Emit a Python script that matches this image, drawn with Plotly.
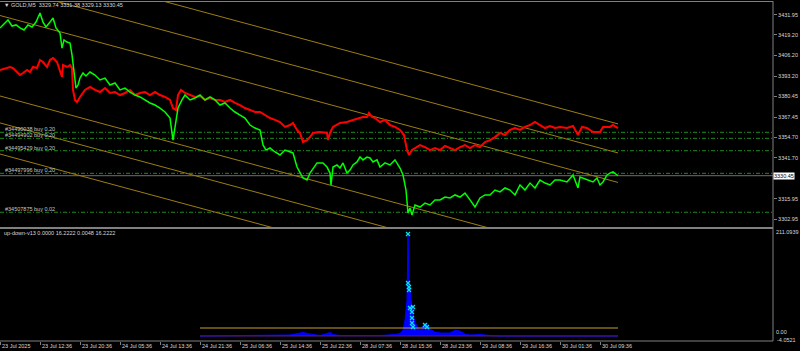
import plotly.graph_objects as go

# ---------------- data ----------------
# time axis in trading hours since first bar (M5 bars, weekend removed)
tick_hours = [0, 8, 16, 24, 32, 40, 48, 56, 64, 72, 80, 88, 96, 104, 112, 120]
tick_labels = ["23 Jul 2025", "23 Jul 12:36", "23 Jul 20:36", "24 Jul 05:36", "24 Jul 13:36",
               "24 Jul 21:36", "25 Jul 06:36", "25 Jul 14:36", "25 Jul 22:36", "28 Jul 07:36",
               "28 Jul 15:36", "28 Jul 23:36", "29 Jul 08:36", "29 Jul 16:36", "30 Jul 01:36",
               "30 Jul 09:36"]

price_ticks = [3431.95, 3419.20, 3406.20, 3393.20, 3380.45, 3367.45, 3354.70, 3341.70,
               3315.95, 3302.95]

green_t = [0.0, 0.8, 1.6, 2.4, 3.2, 4.0, 4.8, 5.6, 6.4, 7.2, 8.0, 8.6, 9.2, 10.0, 10.6, 11.2, 12.0,
           12.4, 12.8, 13.4, 14.0, 14.4, 14.8, 15.2, 15.6, 16.0, 16.6, 17.2, 18.0, 19.0, 20.0, 21.0,
           22.0, 23.0, 24.0, 25.0, 26.0, 27.0, 28.0, 29.0, 30.0, 31.0, 32.0, 33.0, 34.0, 34.6, 35.2,
           35.6, 36.4, 37.0, 38.0, 39.0, 40.0, 41.0, 42.0, 43.0, 44.0, 45.0, 46.0, 47.0, 48.0, 49.0,
           50.0, 51.0, 52.0, 52.6, 53.2, 54.0, 55.0, 56.0, 57.0, 58.0, 58.6, 59.4, 60.0, 60.6, 61.4,
           62.0, 63.4, 64.6, 65.4, 66.0, 66.2, 66.6, 67.4, 68.0, 68.6, 69.4, 70.0, 70.6, 71.4, 72.0,
           72.6, 73.4, 74.0, 74.6, 75.4, 76.0, 77.0, 78.0, 79.0, 80.0, 80.6, 81.2, 81.6, 82.0, 82.4,
           83.0, 84.0, 85.0, 86.0, 87.0, 88.0, 89.0, 90.0, 91.0, 92.0, 93.0, 94.0, 95.0, 96.0, 97.0,
           98.0, 99.0, 100.0, 101.0, 102.0, 103.0, 104.0, 105.0, 106.0, 107.0, 108.0, 109.0, 110.0,
           111.0, 112.0, 113.4, 114.6, 115.6, 116.0, 117.4, 118.6, 119.4, 120.0, 120.6, 121.4, 122.0,
           122.6, 123.4, 123.6]
green_p = [3423.6, 3426.1, 3428.6, 3424.8, 3425.5, 3423.6, 3422.3, 3425.5, 3424.2, 3427.3, 3433.0,
           3427.3, 3424.2, 3427.3, 3429.9, 3423.6, 3420.4, 3410.9, 3416.0, 3414.7, 3414.1, 3406.6,
           3393.9, 3385.7, 3387.6, 3392.0, 3395.2, 3393.3, 3395.8, 3393.9, 3390.8, 3392.0, 3387.6,
           3388.9, 3384.5, 3385.7, 3383.2, 3381.3, 3380.1, 3378.2, 3376.3, 3375.0, 3373.1, 3370.6,
           3366.8, 3352.9, 3365.6, 3373.1, 3378.2, 3381.3, 3378.2, 3379.4, 3381.3, 3378.2, 3380.1,
           3378.2, 3375.0, 3376.3, 3373.1, 3370.6, 3368.7, 3366.8, 3362.4, 3360.5, 3359.3, 3349.8,
           3346.6, 3347.9, 3345.4, 3343.5, 3346.6, 3345.4, 3344.8, 3335.9, 3332.1, 3329.0, 3327.7,
           3332.1, 3338.5, 3338.5, 3335.9, 3332.1, 3324.6, 3335.9, 3337.2, 3335.3, 3338.5, 3332.1,
           3334.0, 3337.2, 3339.1, 3342.2, 3340.4, 3342.2, 3341.6, 3339.1, 3340.4, 3335.9, 3338.5,
           3337.2, 3340.4, 3335.3, 3330.9, 3321.4, 3306.9, 3310.1, 3305.7, 3312.0, 3310.7, 3313.2,
           3312.0, 3315.2, 3315.2, 3317.0, 3316.4, 3318.3, 3317.0, 3319.5, 3315.2, 3310.7, 3316.4,
           3318.3, 3318.3, 3321.4, 3320.2, 3322.7, 3321.4, 3318.3, 3324.6, 3321.4, 3325.8, 3322.7,
           3327.7, 3325.8, 3324.6, 3327.7, 3327.7, 3326.5, 3330.9, 3322.7, 3329.6, 3327.7, 3326.5,
           3329.0, 3324.6, 3326.5, 3330.9, 3332.1, 3332.8, 3330.9, 3330.45]

red_t = [0.0, 1.4, 2.0, 2.6, 3.4, 4.0, 4.6, 5.4, 6.0, 6.6, 7.4, 8.0, 8.6, 9.4, 10.0, 10.6, 11.4, 12.0,
         12.4, 12.6, 13.4, 14.0, 14.4, 14.6, 15.0, 15.4, 16.0, 17.0, 18.0, 19.0, 20.0, 21.0, 22.0,
         23.0, 24.0, 25.0, 26.0, 27.0, 28.0, 29.0, 30.0, 31.0, 32.0, 33.0, 34.0, 34.6, 35.2, 35.6,
         36.2, 37.0, 38.0, 39.0, 40.0, 41.0, 42.0, 43.0, 44.0, 45.0, 46.0, 47.0, 48.0, 49.0, 50.0,
         51.0, 52.0, 53.0, 54.0, 55.0, 56.0, 57.0, 58.0, 58.6, 59.4, 60.0, 60.6, 61.4, 62.0, 62.6,
         64.0, 65.4, 65.6, 66.0, 66.6, 68.0, 69.4, 70.6, 72.0, 72.6, 73.4, 73.8, 74.4, 75.0, 76.0,
         77.0, 78.0, 79.0, 80.0, 80.8, 81.4, 81.8, 82.4, 83.0, 84.0, 85.0, 86.0, 87.0, 88.0, 89.0,
         90.0, 91.0, 92.0, 93.0, 94.0, 95.0, 96.0, 97.0, 98.0, 99.0, 100.0, 101.0, 102.0, 103.0,
         104.0, 105.0, 106.0, 107.0, 108.0, 109.0, 110.0, 111.0, 112.0, 113.4, 114.6, 115.6, 116.4,
         117.4, 118.6, 120.0, 120.6, 122.0, 122.6, 123.4, 123.6]
red_p = [3397.1, 3398.3, 3399.0, 3398.3, 3395.8, 3393.9, 3395.2, 3397.1, 3395.8, 3399.0, 3398.3,
         3403.4, 3402.1, 3399.0, 3403.4, 3404.6, 3402.1, 3397.1, 3392.7, 3400.2, 3399.0, 3400.2,
         3398.3, 3384.5, 3378.2, 3376.9, 3380.1, 3384.5, 3386.4, 3384.5, 3383.2, 3385.7, 3382.6,
         3383.2, 3381.3, 3382.6, 3384.5, 3381.3, 3382.6, 3383.2, 3381.3, 3383.2, 3381.3, 3380.1,
         3378.2, 3373.1, 3371.9, 3381.3, 3384.5, 3382.6, 3381.3, 3380.1, 3380.7, 3378.2, 3379.4,
         3378.2, 3378.2, 3376.9, 3378.2, 3376.3, 3375.0, 3373.1, 3371.9, 3370.6, 3370.6, 3368.7,
         3366.8, 3365.6, 3364.3, 3361.2, 3362.4, 3363.7, 3359.3, 3357.4, 3351.7, 3352.9, 3354.8,
         3357.4, 3358.0, 3357.4, 3352.9, 3357.4, 3361.2, 3363.7, 3364.3, 3365.6, 3366.8, 3367.5,
         3367.5, 3370.0, 3367.5, 3366.8, 3364.3, 3365.6, 3362.4, 3361.2, 3359.3, 3356.1, 3346.6,
         3343.5, 3346.6, 3347.9, 3349.8, 3348.5, 3346.6, 3347.9, 3346.6, 3349.2, 3347.9, 3346.6,
         3348.5, 3349.8, 3347.9, 3349.8, 3348.5, 3351.7, 3352.9, 3354.8, 3357.4, 3356.1, 3359.3,
         3360.5, 3359.3, 3361.2, 3362.4, 3364.3, 3362.4, 3360.5, 3361.8, 3360.5, 3361.2, 3360.5,
         3361.8, 3356.1, 3361.2, 3360.5, 3358.0, 3358.0, 3361.2, 3361.2, 3362.4, 3361.2, 3360.5]

# channel lines: (start price, end price) between channel_t[0] and channel_t[1]
channel_t = [0.0, 123.6]
channel_start = [3468.3, 3450.0, 3431.45, 3380.7, 3363.7, 3344.1]
channel_end = [3363.1, 3344.8, 3326.2, 3275.5, 3258.4, 3238.9]

order_ids = ["#34490038 buy 0.20", "#34494902 buy 0.20", "#34495429 buy 0.20",
             "#34497996 buy 0.20", "#34507875 buy 0.02"]
order_prices = [3357.8, 3354.0, 3346.2, 3331.96, 3307.4]

last_price = 3330.45
header = "▼ GOLD,M5  3329.74 3331.38 3329.13 3330.45"

# indicator sub-window
ind_name = "up-down-v13 0.0000 16.2222 0.0048 16.2222"
ind_top = 211.0939
ind_zero = 0.0
ind_bottom = -4.0521
hist_t = [40.0, 56.0, 58.0, 59.4, 60.6, 62.0, 64.0, 66.0, 66.6, 68.0, 72.0, 76.0, 79.0, 80.0, 80.6,
          81.0, 81.4, 81.6, 81.8, 82.0, 82.2, 82.4, 82.6, 83.0, 83.6, 84.0, 84.6, 85.0, 85.6, 86.0,
          87.0, 88.0, 90.0, 91.0, 92.0, 93.0, 94.0, 96.0, 98.0, 100.0, 123.6]
hist_v = [0, 1, 2, 5, 7, 4, 1, 7, 3, 1, 1, 1, 3, 5, 12, 32, 73, 207, 108, 93, 73, 63, 43, 28, 16,
          12, 20, 26, 22, 14, 8, 6, 6, 12, 10, 4, 2, 3, 1, 0, 0]
mark_t = [81.6, 81.6, 81.8, 81.8, 82.0, 82.6, 82.4, 82.4, 82.4, 82.6, 85.0, 85.4]
mark_v = [207, 107.6, 99.5, 93.4, 56.8, 58.9, 48.7, 36.5, 26.4, 18.3, 22.3, 18.3]
level_t = [40.0, 123.6]
level_v = [16.2222, 16.2222]
base_v = [0.0, 0.0]

# ---------------- figure ----------------
W, H = 800, 351
XR = 773 / W
FONT = "Liberation Sans"
FS = 5.5
TXT = "#d8d8d8"
GRAY = "#808080"


def py(px):  # paper y from pixel row
    return 1 - px / H


fig = go.Figure()

for s, e in zip(channel_start, channel_end):
    fig.add_trace(go.Scatter(x=channel_t, y=[s, e], mode="lines",
                             line=dict(color="#9C7E12", width=1), xaxis="x", yaxis="y",
                             hoverinfo="skip"))

fig.add_trace(go.Scatter(x=red_t, y=red_p, mode="lines", line=dict(color="#FF0000", width=2),
                         xaxis="x", yaxis="y"))
fig.add_trace(go.Scatter(x=green_t, y=green_p, mode="lines", line=dict(color="#00FF00", width=1.5),
                         xaxis="x", yaxis="y"))

# sub-window
fig.add_trace(go.Scatter(x=hist_t, y=hist_v, mode="lines", fill="tozeroy",
                         line=dict(color="#0000FF", width=1), fillcolor="#0000FF",
                         xaxis="x", yaxis="y2"))
fig.add_trace(go.Scatter(x=level_t, y=base_v, mode="lines", line=dict(color="#5a1a8a", width=1),
                         xaxis="x", yaxis="y2"))
fig.add_trace(go.Scatter(x=level_t, y=level_v, mode="lines", line=dict(color="#C8A028", width=1),
                         xaxis="x", yaxis="y2"))
fig.add_trace(go.Scatter(x=mark_t, y=mark_v, mode="markers",
                         marker=dict(symbol="x-thin", size=4, line=dict(color="#00E5EE", width=1.2),
                                     color="#00E5EE"),
                         xaxis="x", yaxis="y2"))

shapes = []
for p in order_prices:
    shapes.append(dict(type="line", xref="paper", yref="y", x0=0, x1=XR, y0=p, y1=p,
                       line=dict(color="#1E8C1E", width=1, dash="4px,2px,1px,2px"), layer="below"))
shapes.append(dict(type="line", xref="paper", yref="y", x0=0, x1=XR, y0=last_price, y1=last_price,
                   line=dict(color="#6e6e6e", width=1), layer="below"))
# frame
shapes += [
    dict(type="line", xref="paper", yref="paper", x0=XR, x1=XR, y0=py(341), y1=py(1),
         line=dict(color=GRAY, width=1)),
    dict(type="line", xref="paper", yref="paper", x0=0, x1=XR, y0=py(1.5), y1=py(1.5),
         line=dict(color=GRAY, width=1)),
    dict(type="line", xref="paper", yref="paper", x0=0, x1=XR, y0=py(228), y1=py(228),
         line=dict(color=GRAY, width=2)),
    dict(type="line", xref="paper", yref="paper", x0=0, x1=XR, y0=py(341), y1=py(341),
         line=dict(color=GRAY, width=1)),
]

afont = dict(size=FS, color=TXT, family=FONT)
annotations = [
    dict(xref="paper", yref="paper", x=2 / W, y=py(5), xanchor="left", yanchor="middle",
         text=header, showarrow=False, font=afont),
    dict(xref="paper", yref="paper", x=2 / W, y=py(233), xanchor="left", yanchor="middle",
         text=ind_name, showarrow=False, font=afont),
    dict(xref="paper", yref="y", x=XR, y=last_price, xanchor="left", yanchor="middle",
         text=f"{last_price:.2f}", showarrow=False, bgcolor="#ffffff", borderpad=0,
         font=dict(size=FS, color="#000000", family=FONT)),
    # indicator scale labels (drawn next to the right axis)
    dict(xref="paper", yref="y2", x=XR, y=ind_top, xanchor="left", yanchor="middle", xshift=2,
         text=f"{ind_top:.4f}", showarrow=False, borderpad=0, font=afont),
    dict(xref="paper", yref="y2", x=XR, y=ind_zero, xanchor="left", yanchor="middle", xshift=2,
         yshift=4, text="0.00", showarrow=False, borderpad=0, font=afont),
    dict(xref="paper", yref="y2", x=XR, y=ind_bottom, xanchor="left", yanchor="middle", xshift=3,
         yshift=-2, text=f"{ind_bottom:.4f}", showarrow=False, borderpad=0, font=afont),
]
for name, p in zip(order_ids, order_prices):
    annotations.append(dict(xref="paper", yref="y", x=4 / W, y=p, xanchor="left", yanchor="bottom",
                            yshift=-1, text=name, showarrow=False, borderpad=0,
                            font=dict(size=FS, color="#c8c8c8", family=FONT)))
for t, lab in zip(tick_hours, tick_labels):
    annotations.append(dict(xref="x", yref="paper", x=t, y=py(345.5), xanchor="left",
                            yanchor="middle", xshift=1, text=lab, showarrow=False, borderpad=0,
                            font=afont))

fig.update_layout(
    width=W, height=H, margin=dict(l=0, r=0, t=0, b=0),
    paper_bgcolor="#000000", plot_bgcolor="#000000", showlegend=False,
    template="none",
    xaxis=dict(domain=[0, XR], range=[0, 773 / 5], anchor="y2", tickvals=tick_hours,
               showticklabels=False, ticks="outside", ticklen=3, tickcolor=GRAY,
               showgrid=False, zeroline=False, showline=False, automargin=False),
    yaxis=dict(domain=[py(227), py(2)], range=[3298.10, 3439.96], side="right", anchor="x",
               tickvals=price_ticks, ticktext=[f"{v:.2f}" for v in price_ticks], ticks="outside",
               ticklen=3, tickcolor=GRAY, showgrid=False, zeroline=False, showline=False,
               tickfont=dict(size=FS, color=TXT, family=FONT), automargin=False),
    yaxis2=dict(domain=[py(341), py(229)], range=[-10.15, 217.2], side="right", anchor="x",
                showticklabels=False, ticks="", showgrid=False, zeroline=False, showline=False,
                automargin=False),
    shapes=shapes, annotations=annotations,
)

fig.write_html("out.html")
